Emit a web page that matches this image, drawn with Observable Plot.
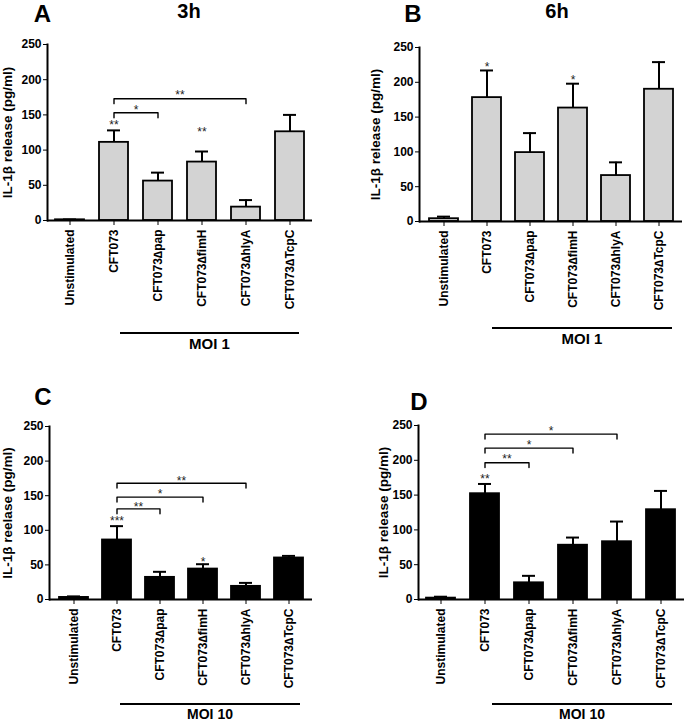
<!DOCTYPE html>
<html><head><meta charset="utf-8">
<script src="https://cdn.jsdelivr.net/npm/d3@7"></script>
<script src="https://cdn.jsdelivr.net/npm/@observablehq/plot@0.6"></script>
<style>
body{margin:0;background:#fff;}
#fig{position:relative;width:685px;height:722px;overflow:hidden;font-family:"Liberation Sans",Arial,sans-serif;background:#fff;}
.abs{position:absolute;}
.letter{font-weight:bold;font-size:24px;line-height:24px;width:40px;text-align:center;}
.time{font-weight:bold;font-size:20px;line-height:20px;width:60px;text-align:center;}
.moiline{border-top:2.5px solid #000;height:0;}
.moi{font-weight:bold;font-size:15px;line-height:15px;text-align:center;}
svg{background:transparent !important;}
</style></head><body><div id="fig"></div>
<script>
const categories = ["Unstimulated","CFT073","CFT073\u2206pap","CFT073\u2206fimH","CFT073\u2206hlyA","CFT073\u2206TcpC"];
const yTicks = [0,50,100,150,200,250];

// Panel A: 3h, MOI 1
const aMean = [1, 111, 56, 83, 19, 126];
const aErr  = [0.5, 17, 12, 15, 10, 24];
const aStarCats = ["CFT073","CFT073\u2206fimH"], aStarY = [139,130], aStarText = ["**","**"];
const aBrTo = ["CFT073\u2206pap","CFT073\u2206hlyA"], aBrY = [153,173], aBrText = ["*","**"], aBrTextY = [161,182];

// Panel B: 6h, MOI 1
const bMean = [4, 178, 99, 163, 66, 190];
const bErr  = [3, 39, 28, 35, 19, 39];
const bStarCats = ["CFT073","CFT073\u2206fimH"], bStarY = [226,208], bStarText = ["*","*"];
const bBrTo = [], bBrY = [], bBrText = [], bBrTextY = [];

// Panel C: MOI 10
const cMean = [3, 86, 32, 44, 19, 60];
const cErr  = [1.5, 20, 8, 7, 5, 3];
const cStarCats = ["CFT073","CFT073\u2206fimH"], cStarY = [118,59], cStarText = ["***","*"];
const cBrTo = ["CFT073\u2206pap","CFT073\u2206fimH","CFT073\u2206hlyA"], cBrY = [131,148,168], cBrText = ["**","*","**"], cBrTextY = [138,157,176];

// Panel D: MOI 10
const dMean = [2, 152, 24, 78, 83, 129];
const dErr  = [2, 14, 10, 11, 29, 27];
const dStarCats = ["CFT073"], dStarY = [177], dStarText = ["**"];
const dBrTo = ["CFT073\u2206pap","CFT073\u2206fimH","CFT073\u2206hlyA"], dBrY = [196.5,217.5,237.6], dBrText = ["**","*","*"], dBrTextY = [205.5,226.6,246.7];

const panels = [
  {letter:"A", time:"3h", moi:"MOI 1", mean:aMean, err:aErr, fill:"#d3d3d3", ylabel:"IL-1\u03b2 release (pg/ml)",
   sc:aStarCats, sy:aStarY, st:aStarText, bt:aBrTo, by:aBrY, btx:aBrText, bty:aBrTextY,
   left:0, top:30, width:340, height:300, ml:47, mr:28, mt:14, mb:110, lo:45,
   lx:42.5, ly:5, tx:189, ty:4, moiY:332, moiX1:120, moiX2:299, moiFs:15},
  {letter:"B", time:"6h", moi:"MOI 1", mean:bMean, err:bErr, fill:"#d3d3d3", ylabel:"IL-1\u03b2 release (pg/ml)",
   sc:bStarCats, sy:bStarY, st:bStarText, bt:bBrTo, by:bBrY, btx:bBrText, bty:bBrTextY,
   left:340, top:30, width:345, height:300, ml:79, mr:3, mt:17, mb:109, lo:49,
   lx:413, ly:5.5, tx:557, ty:4, moiY:327, moiX1:492, moiX2:672, moiFs:15},
  {letter:"C", time:"", moi:"MOI 10", mean:cMean, err:cErr, fill:"#000", ylabel:"IL-1\u03b2 reelase (pg/ml)",
   sc:cStarCats, sy:cStarY, st:cStarText, bt:cBrTo, by:cBrY, btx:cBrText, bty:cBrTextY,
   left:0, top:400, width:340, height:300, ml:49, mr:28, mt:26, mb:101, lo:47,
   lx:43, ly:388, tx:0, ty:0, moiY:703, moiX1:120, moiX2:300, moiFs:14},
  {letter:"D", time:"", moi:"MOI 10", mean:dMean, err:dErr, fill:"#000", ylabel:"IL-1\u03b2 release (pg/ml)",
   sc:dStarCats, sy:dStarY, st:dStarText, bt:dBrTo, by:dBrY, btx:dBrText, bty:dBrTextY,
   left:340, top:400, width:345, height:300, ml:78, mr:1, mt:25, mb:101, lo:40,
   lx:419, ly:393, tx:0, ty:0, moiY:703, moiX1:492, moiX2:672, moiFs:14}
];

function build(p, xs) {
  const data = categories.map((c,i)=>({cat:c, mean:p.mean[i], top:p.mean[i]+p.err[i]}));
  const stars = p.sc.map((c,i)=>({cat:c, y:p.sy[i], text:p.st[i]}));
  const marks = [
    Plot.barY(data, {x:"cat", y:"mean", fill:p.fill, stroke:"#000", strokeWidth:1.8}),
    Plot.ruleX(data, {x:"cat", y1:"mean", y2:"top", stroke:"#000", strokeWidth:2}),
    Plot.tickY(data, {x:"cat", y:"top", stroke:"#000", strokeWidth:2, insetLeft:8, insetRight:8}),
    Plot.ruleY([0], {stroke:"#000", strokeWidth:2}),
    Plot.frame({anchor:"left", stroke:"#000", strokeWidth:2}),
    Plot.axisY({ticks:yTicks, tickSize:4, tickPadding:2, label:null}),
    Plot.axisY({ticks:[], tickSize:0, label:p.ylabel, labelAnchor:"center", labelArrow:"none", labelOffset:p.lo, fontSize:13.5}),
    Plot.axisX({tickRotate:-90, tickSize:5, tickPadding:4, label:null}),
    Plot.text(stars, {x:"cat", y:"y", text:"text", dy:3, fontWeight:"normal", fontSize:12, fill:"#222"})
  ];
  p.bt.forEach((to,i)=>{
    const y = p.by[i];
    const pts = [{x:"CFT073", y:y-7},{x:"CFT073", y:y},{x:to, y:y},{x:to, y:y-7}];
    marks.push(Plot.line(pts, {x:"x", y:"y", stroke:"#000", strokeWidth:1.4}));
    if (xs) {
      const dx = (xs.apply(to) - xs.apply("CFT073"))/2;
      marks.push(Plot.text([{x:"CFT073", y:p.bty[i], t:p.btx[i]}], {x:"x", y:"y", text:"t", dx, dy:3, fontWeight:"normal", fontSize:12, fill:"#222"}));
    }
  });
  return Plot.plot({
    width:p.width, height:p.height,
    marginLeft:p.ml, marginRight:p.mr, marginTop:p.mt, marginBottom:p.mb,
    style:{fontFamily:'"Liberation Sans", Arial, sans-serif', fontSize:"12px", fontWeight:"bold", color:"#000", background:"transparent", overflow:"visible"},
    x:{domain:categories, paddingInner:0.33, paddingOuter:0.17, align:0.5},
    y:{domain:[0,250]},
    marks
  });
}

const fig = document.getElementById("fig");
const overlays = [];
for (const p of panels) {
  const first = build(p, null);
  const xs = first.scale("x");
  const chart = build(p, xs);
  chart.style.position = "absolute";
  chart.style.left = p.left + "px";
  chart.style.top = p.top + "px";
  fig.appendChild(chart);

  const L = document.createElement("div");
  L.className = "abs letter"; L.textContent = p.letter;
  L.style.left = (p.lx - 20) + "px"; L.style.top = (p.ly - 3.2) + "px";
  overlays.push(L);
  if (p.time) {
    const T = document.createElement("div");
    T.className = "abs time"; T.textContent = p.time;
    T.style.left = (p.tx - 30) + "px"; T.style.top = (p.ty - 2.7) + "px";
    overlays.push(T);
  }
  const ML = document.createElement("div");
  ML.className = "abs moiline";
  ML.style.left = p.moiX1 + "px"; ML.style.width = (p.moiX2 - p.moiX1) + "px"; ML.style.top = p.moiY + "px";
  overlays.push(ML);
  const MT = document.createElement("div");
  MT.className = "abs moi"; MT.textContent = p.moi;
  MT.style.fontSize = p.moiFs + "px"; MT.style.lineHeight = p.moiFs + "px";
  MT.style.left = p.moiX1 + "px"; MT.style.width = (p.moiX2 - p.moiX1) + "px"; MT.style.top = (p.moiY + 4) + "px";
  overlays.push(MT);
}
overlays.forEach(o => fig.appendChild(o));
</script></body></html>
